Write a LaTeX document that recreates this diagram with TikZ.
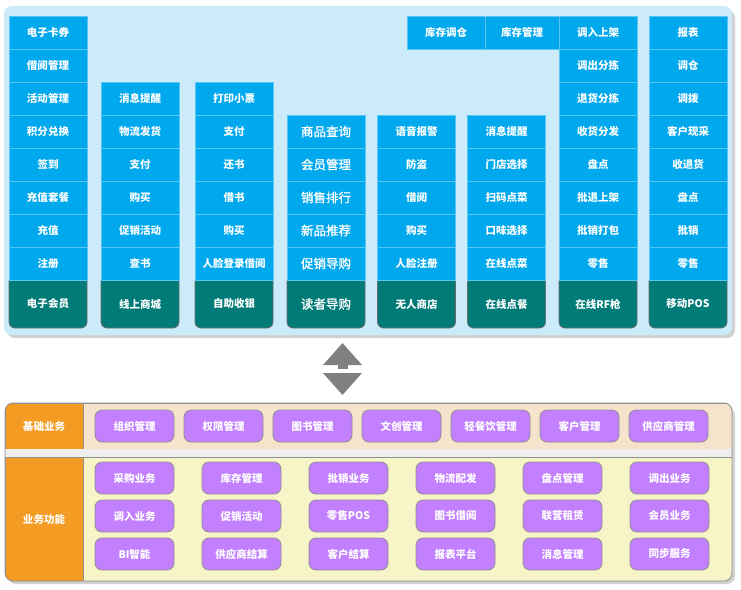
\documentclass[tikz,border=0pt]{standalone}
\usepackage{fontspec}
\setmainfont{Noto Sans CJK SC}
\newfontfamily\guidefont[FakeBold=1.2]{Noto Sans CJK SC}
\usetikzlibrary{arrows.meta,positioning}
\definecolor{PanelBlue}{HTML}{CCEBFA}
\definecolor{CellBlue}{HTML}{00A8EE}
\definecolor{CellLine}{HTML}{5CC6F2}
\definecolor{BaseTeal}{HTML}{007B78}
\definecolor{BaseLine}{HTML}{6E6E6E}
\definecolor{ArrowGray}{HTML}{808080}
\definecolor{BandOrange}{HTML}{F39B22}
\definecolor{BandBeige}{HTML}{F5E3CC}
\definecolor{BandYellow}{HTML}{F7F5C8}
\definecolor{GapGray}{HTML}{EEEEEE}
\definecolor{BandLine}{HTML}{909090}
\definecolor{BtnPurple}{HTML}{C280FF}
\pgfdeclarelayer{back}
\pgfsetlayers{back,main}

\begin{document}
\begin{tikzpicture}[x=1pt,y=-1pt]
    \tikzset{cell/.style={rectangle,fill=CellBlue,draw=CellLine,line width=0.8pt,text=white,
      minimum width=78pt,minimum height=33pt,inner sep=0pt,outer sep=0pt},
      basebox/.style={rectangle,text=white,minimum width=78pt,minimum height=48pt,inner sep=0pt,outer sep=0pt},
      basefill/.style={fill=BaseTeal,draw=BaseLine,line width=0.8pt,rounded corners=6pt},
      bandhead/.style={rectangle,fill=BandOrange,draw=BandLine,line width=0.6pt,text=white,
      font=\bfseries\fontsize{10.5}{12}\selectfont,minimum width=78pt,minimum height=46pt,outer sep=0pt},
      bandbody/.style={rectangle,draw=BandLine,line width=0.6pt,minimum width=649pt,minimum height=46pt,outer sep=0pt},
      btn/.style={rectangle,rounded corners=7pt,fill=BtnPurple,draw=BandLine,line width=0.8pt,text=white,
      font=\bfseries\fontsize{10.5}{12}\selectfont,minimum width=79pt,minimum height=32pt,inner sep=0pt},
      bigarrow/.style={line width=10pt,draw=ArrowGray,-{Triangle[width=39pt,length=22pt,line width=0pt]}}}
    \useasboundingbox (0,0) rectangle (741,589);
    % top panel
    \begin{pgfonlayer}{back}
      \fill[black!18,rounded corners=8pt] (7,10) rectangle (735,338);
      \fill[PanelBlue,rounded corners=8pt] (4,6) rectangle (732,335);
    \end{pgfonlayer}
    \foreach \cx/\fw/\fs/\b/\cells [count=\k] in {
      48/\bfseries/10.5/电子会员/{注册,充值,充值套餐,签到,积分兑换,活动管理,借阅管理,电子卡券},
      140/\bfseries/10.5/线上商城/{查书,促销活动,购买,支付,物流发货,消息提醒},
      234/\bfseries/10.5/自助收银/{人脸登录借阅,购买,借书,还书,支付,打印小票},
      326/\guidefont/12.5/读者导购/{促销导购,新品推荐,销售排行,会员管理,商品查询},
      416.5/\bfseries/10.5/无人商店/{人脸注册,购买,借阅,防盗,语音报警},
      506.5/\bfseries/10.5/在线点餐/{在线点菜,口味选择,扫码点菜,门店选择,消息提醒},
      598/\bfseries/10.5/在线RF枪/{零售,批销打包,批退上架,盘点,收货分发,退货分拣,调出分拣,调入上架},
      688/\bfseries/10.5/移动POS/{零售,批销,盘点,收退货,客户现采,调拨,调仓,报表}}
    {
      \node[basebox,font=\fw\fontsize{\fs}{14}\selectfont] (c\k-0) at (\cx,304) {\b};
      \begin{pgfonlayer}{back}
        \filldraw[basefill] (c\k-0.north east) -- (c\k-0.south east) -- (c\k-0.south west) -- (c\k-0.north west);
      \end{pgfonlayer}
      \foreach \t [count=\i,evaluate=\i as \j using int(\i-1)] in \cells
        \node[cell,font=\fw\fontsize{\fs}{14}\selectfont,above=0pt of c\k-\j] (c\k-\i) {\t};
    }
    \node[cell,font=\bfseries\fontsize{10.5}{14}\selectfont,minimum width=74pt,left=0pt of c7-8] (kc2) {库存管理};
    \node[cell,font=\bfseries\fontsize{10.5}{14}\selectfont,left=0pt of kc2] (kc1) {库存调仓};
    % arrows between the panels
    \coordinate (up0) at (342.5,369);
    \coordinate (up1) at (342.5,343);
    \coordinate (dn0) at (342.5,373);
    \coordinate (dn1) at (342.5,395);
    \draw[bigarrow] (up0) -- (up1);
    \draw[bigarrow] (dn0) -- (dn1);
    % bottom panel
    \fill[black!18,rounded corners=8pt] (8,407) rectangle (735,584);
    \begin{scope}
      \clip[rounded corners=8pt] (5,403) rectangle (732,581);
      \node[bandhead] (h1) at (44,426) {基础业务};
      \node[bandbody,fill=BandBeige,right=0pt of h1] (r1) {};
      \node[bandhead,minimum height=124pt] (h2) at (44,519) {业务功能};
      \node[bandbody,fill=BandYellow,minimum height=124pt,right=0pt of h2] (r2) {};
      \fill[GapGray] (h1.south west) rectangle (r2.north east);
    \end{scope}
    \draw[BandLine,line width=0.8pt,rounded corners=8pt] (5,403) rectangle (732,581);
    \foreach \t [count=\i] in {组织管理,权限管理,图书管理,文创管理,轻餐饮管理,客户管理,供应商管理}
      \node[btn] (b1-\i) at ({134.5+89*(\i-1)},426) {\t};
    \foreach \t [count=\i] in {采购业务,库存管理,批销业务,物流配发,盘点管理,调出业务,
      调入业务,促销活动,零售POS,图书借阅,联营租赁,会员业务,
      BI智能,供应商结算,客户结算,报表平台,消息管理,同步服务}
      \node[btn] (b2-\i) at ({134.5+107*mod(\i-1,6)},{478+38*int((\i-1)/6)}) {\t};
  \end{tikzpicture}
\end{document}
